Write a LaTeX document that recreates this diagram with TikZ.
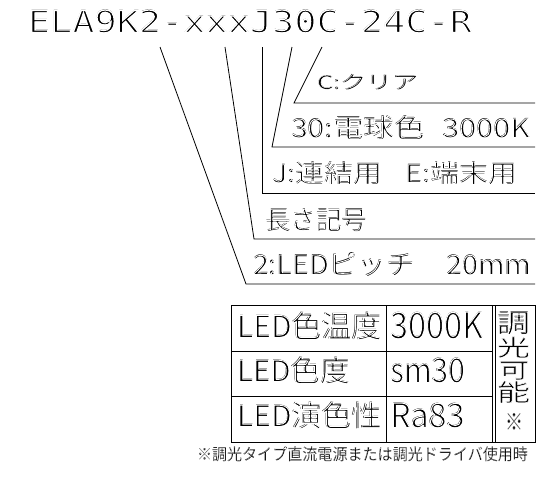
\documentclass[tikz,border=0pt]{standalone}
\usepackage{fontspec}
\usepackage{graphicx}
\setmainfont{Noto Sans CJK JP}
\newfontfamily\monofont{DejaVu Sans Mono}
\tikzset{
  lbl/.style={inner sep=0pt, outer sep=0pt, anchor=north west},
  ln/.style={line width=0.8pt, black},
}
% thin the glyphs: overlay a white outline stroke of width #1
\newcommand{\thintext}[2]{\leavevmode\rlap{#2}{\color{white}\special{pdf:literal 1 Tr #1 w}#2\special{pdf:literal 0 Tr 0.8 w}}}
\newcommand{\fitbox}[4][0.3]{\resizebox*{#2pt}{#3pt}{\thintext{#1}{#4}}}
\begin{document}
\begin{tikzpicture}[x=1pt,y=-1pt]
\useasboundingbox (0,0) rectangle (541,485);
% title
\node[lbl] (code) at (28,10) {\fitbox[0.4]{444}{23}{\monofont ELA9K2-xxxJ30C-24C-R}};
% labels
\node[lbl] (c) at (317,74) {\fitbox[0.2]{102}{16}{C:クリア}};
\node[lbl] (t30) at (291,116) {\fitbox{239}{24}{30:電球色\hspace{0.6em}3000K}};
\node[lbl] (j) at (272,162) {\fitbox{245}{23}{J:連結用\hspace{0.8em}E:端末用}};
\node[lbl] (len) at (265,209) {\fitbox{102}{23}{長さ記号}};
\node[lbl] (pitch) at (253,253) {\fitbox{278}{24}{2:LEDピッチ\hspace{1.1em}20mm}};
% leader coordinates
\coordinate (a1) at (160,47); \coordinate (b1) at (246,284); \coordinate (e1) at (535,284);
\coordinate (a2) at (225,47); \coordinate (b2) at (254,239); \coordinate (e2) at (535,239);
\coordinate (a3) at (262,47); \coordinate (b3) at (262,193); \coordinate (e3) at (535,193);
\coordinate (a4) at (292,47); \coordinate (b4) at (272,147); \coordinate (e4) at (535,147);
\coordinate (a5) at (322,47); \coordinate (b5) at (294,103); \coordinate (e5) at (535,103);
\draw[ln] (a1) -- (b1) -- (e1);
\draw[ln] (a2) -- (b2) -- (e2);
\draw[ln] (a3) -- (b3) -- (e3);
\draw[ln] (a4) -- (b4) -- (e4);
\draw[ln] (a5) -- (b5) -- (e5);
% table
\coordinate (tl) at (231,305); \coordinate (br) at (535,442);
\draw[ln] (tl) rectangle (br);
\coordinate (c1t) at (386,305); \coordinate (c1b) at (386,442);
\coordinate (d1t) at (492,305); \coordinate (d1b) at (492,442);
\coordinate (d2t) at (495,305); \coordinate (d2b) at (495,442);
\coordinate (r1l) at (231,351); \coordinate (r1r) at (492,351);
\coordinate (r2l) at (231,396); \coordinate (r2r) at (492,396);
\draw[ln] (c1t) -- (c1b);
\draw[ln] (d1t) -- (d1b);
\draw[ln] (d2t) -- (d2b);
\draw[ln] (r1l) -- (r1r);
\draw[ln] (r2l) -- (r2r);
\node[lbl] (t11) at (237,312) {\fitbox{145}{28}{LED色温度}};
\node[lbl] (t12) at (390,312) {\fitbox{93}{27}{3000K}};
\node[lbl] (t21) at (237,357) {\fitbox{113}{27}{LED色度}};
\node[lbl] (t22) at (390,358) {\fitbox{75}{25}{sm30}};
\node[lbl] (t31) at (237,402) {\fitbox{145}{27}{LED演色性}};
\node[lbl] (t32) at (390,403) {\fitbox{75}{25}{Ra83}};
\node[lbl] (v1) at (497,312) {\fitbox[0.2]{33}{23}{調}};
\node[lbl] (v2) at (497,337) {\fitbox[0.2]{33}{21}{光}};
\node[lbl] (v3) at (499,362) {\fitbox[0.2]{30}{18}{可}};
\node[lbl] (v4) at (497,381) {\fitbox[0.2]{33}{22}{能}};
\node[lbl] (v5) at (505,413) {\fitbox[0]{18}{17}{※}};
\node[lbl] (note) at (197,447) {\fitbox[0.08]{331}{15}{※調光タイプ直流電源または調光ドライバ使用時}};
\end{tikzpicture}
\end{document}
